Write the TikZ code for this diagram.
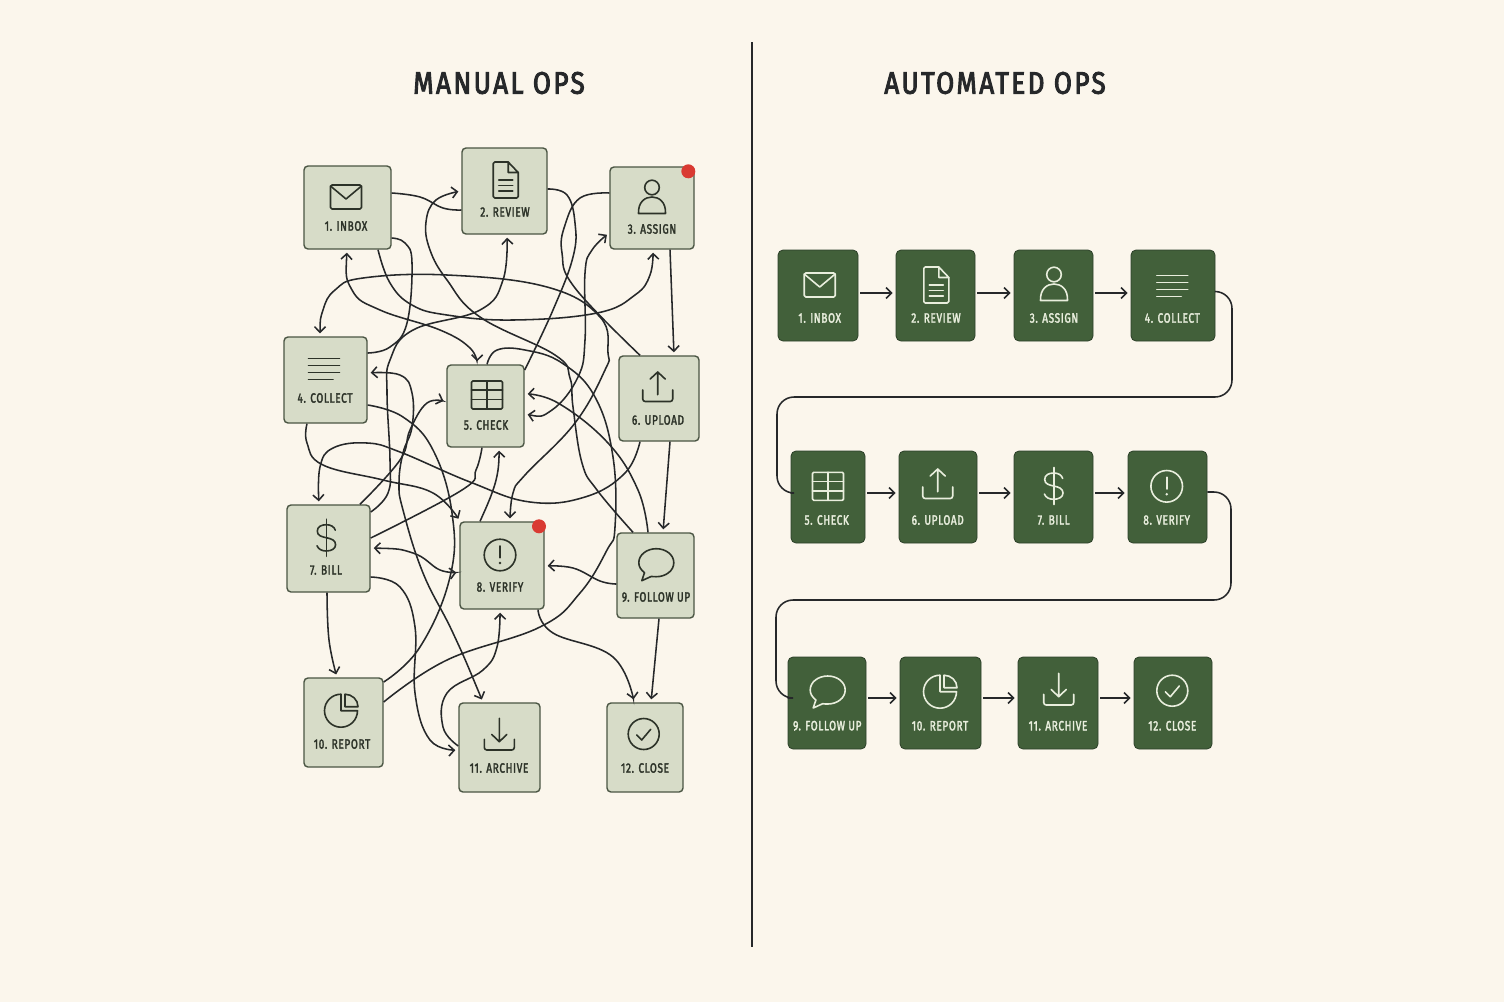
\documentclass[tikz,border=0pt]{standalone}
\usepackage{fontspec}
\usepackage{tikz}
\usetikzlibrary{arrows.meta}
\setmainfont{Fira Sans}[FakeStretch=0.74,LetterSpace=5,FakeBold=2.2]
\newfontfamily\titlefont{Fira Sans}[FakeStretch=0.84,LetterSpace=8,FakeBold=3]

\definecolor{paper}{HTML}{FBF6EC}
\definecolor{ink}{HTML}{26282A}
\definecolor{sage}{HTML}{D7DCC8}
\definecolor{sageline}{HTML}{4A5543}
\definecolor{sagetext}{HTML}{2C3228}
\definecolor{pine}{HTML}{42603A}
\definecolor{pineline}{HTML}{2C4029}
\definecolor{pinetext}{HTML}{E9EEDD}
\definecolor{alert}{HTML}{D93A32}

\tikzset{
  mbox/.style={draw=sageline,fill=sage,line width=1.4pt,rounded corners=4pt,inner sep=0pt},
  abox/.style={draw=pineline,fill=pine,line width=.8pt,rounded corners=5pt,inner sep=0pt},
  boxtext/.style={font=\fontsize{13.5}{15}\selectfont,inner sep=0pt},
  headline/.style={font=\titlefont\fontsize{31}{34}\selectfont,text=ink,inner sep=0pt},
  dot/.style={circle,fill=alert,minimum size=14pt,inner sep=0pt},
  wire/.style={draw=ink,line width=1.55pt,smooth,tension=.7,>={Straight Barb[length=5.5pt,width=11pt]}},
  onew/.style={->,shorten >=3pt},
  twow/.style={<->,shorten >=3pt,shorten <=3pt},
  icon/.style={line width=1.6pt,line join=round,line cap=round},
  pics/mailicon/.style={code={
    \draw[icon,rounded corners=1.5pt] (-15.5,-12) rectangle (15.5,12);
    \draw[icon] (-15.5,-11) -- (0,2) -- (15.5,-11);
  }},
  pics/docicon/.style={code={
    \draw[icon,rounded corners=1.5pt] (2.5,-18) -- (-12.5,-18) -- (-12.5,18) -- (12.5,18) -- (12.5,-7.5);
    \draw[icon] (2.5,-18) -- (12.5,-7.5) -- (2.5,-7.5) -- cycle;
    \foreach \ly in {0,5.5,11} \draw[icon] (-7,\ly) -- (7,\ly);
  }},
  pics/personicon/.style={code={
    \draw[icon] (0,-9.5) circle (7.3);
    \draw[icon] (-13.5,16.5) .. controls (-14,5) and (-7,0) .. (0,0) .. controls (7,0) and (14,5) .. (13.5,16.5) -- cycle;
  }},
  pics/linesicon/.style={code={
    \foreach \ly in {-10.5,-3.5,3.5} \draw[icon] (-15.5,\ly) -- (15.5,\ly);
    \draw[icon] (-15.5,10.5) -- (9,10.5);
  }},
  pics/tableicon/.style={code={
    \draw[icon,rounded corners=1.2pt] (-15.5,-14) rectangle (15.5,14);
    \draw[icon] (0,-14) -- (0,14) (-15.5,-5) -- (15.5,-5) (-15.5,4.5) -- (15.5,4.5);
  }},
  pics/uploadicon/.style={code={
    \draw[icon] (0,6.7) -- (0,-16) (-7.5,-9) -- (0,-16) -- (7.5,-9);
    \draw[icon,rounded corners=2.5pt] (-15,2) -- (-15,13.5) -- (15,13.5) -- (15,2);
  }},
  pics/dollaricon/.style={code={
    \draw[icon] (0,-18.5) -- (0,18.5);
    \draw[icon] (9,-7.5) .. controls (8,-11) and (4.5,-13) .. (0,-13) .. controls (-5,-13) and (-9,-11) .. (-9,-6.5)
      .. controls (-9,-2) and (-4.5,-1) .. (0,0) .. controls (5,1) and (9.3,2.5) .. (9.3,7)
      .. controls (9.3,11) and (5,13.3) .. (0,13.3) .. controls (-4.5,13.3) and (-8,11.5) .. (-9.3,8);
  }},
  pics/alerticon/.style={code={
    \draw[icon] (0,0) circle (15.8);
    \draw[icon,line width=2pt] (0,-9) -- (0,2.5);
    \fill (0,8) circle (1.4);
  }},
  pics/bubbleicon/.style={code={
    \draw[icon] (-5,13.7) -- (-14.5,18) -- (-11.8,10) .. controls (-15.5,7) and (-17.5,4) .. (-17.5,0)
      .. controls (-17.5,-8) and (-9.5,-14) .. (0,-14) .. controls (9.5,-14) and (17.5,-8) .. (17.5,0)
      .. controls (17.5,8) and (9.5,14) .. (0,14) .. controls (-2,14) and (-3.5,14) .. (-5,13.7) -- cycle;
  }},
  pics/pieicon/.style={code={
    \draw[icon] (0,-16.5) .. controls (-9.1,-16.5) and (-16.5,-9.1) .. (-16.5,0) .. controls (-16.5,9.1) and (-9.1,16.5) .. (0,16.5)
      .. controls (9.1,16.5) and (16.5,9.1) .. (16.5,0) -- (0,0) -- cycle;
    \draw[icon] (4,-16.5) -- (4,-4) -- (17,-4) .. controls (17,-11) and (11,-16.5) .. (4,-16.5) -- cycle;
  }},
  pics/downloadicon/.style={code={
    \draw[icon] (0,-16.7) -- (0,6.7) (-7.5,-.5) -- (0,6.7) -- (7.5,-.5);
    \draw[icon,rounded corners=2.5pt] (-15,4.3) -- (-15,15) -- (15,15) -- (15,4.3);
  }},
  pics/checkicon/.style={code={
    \draw[icon] (0,0) circle (15.5);
    \draw[icon] (-7,1) -- (-2,6) -- (7,-4.7);
  }},
}

\begin{document}
\begin{tikzpicture}[x=1pt,y=-1pt]
  \useasboundingbox (0,0) rectangle (1504,1002);
  \fill[paper] (0,0) rectangle (1504,1002);

  \node[headline] (mtitle) at (499,83) {MANUAL OPS};
  \node[headline] (atitle) at (995,83) {AUTOMATED OPS};
  \coordinate (divtop) at (752,42);
  \coordinate (divbot) at (752,947);
  \draw[ink,line width=1.5pt] (divtop) -- (divbot);

  % manual side
  \begin{scope}[color=sagetext,every node/.append style={text=sagetext}]
    \node[mbox,minimum width=87,minimum height=83] (m1) at (347.5,207.5) {};
    \node[mbox,minimum width=85,minimum height=86] (m2) at (504.5,191) {};
    \node[mbox,minimum width=84,minimum height=82] (m3) at (652,208) {};
    \node[mbox,minimum width=83,minimum height=86] (m4) at (325.5,380) {};
    \node[mbox,minimum width=77,minimum height=82] (m5) at (485.5,406) {};
    \node[mbox,minimum width=80,minimum height=85] (m6) at (659,398.5) {};
    \node[mbox,minimum width=83,minimum height=87] (m7) at (328.5,548.5) {};
    \node[mbox,minimum width=84,minimum height=87] (m8) at (502,565.5) {};
    \node[mbox,minimum width=77,minimum height=85] (m9) at (655.5,575.5) {};
    \node[mbox,minimum width=79,minimum height=89] (m10) at (343.5,722.5) {};
    \node[mbox,minimum width=81,minimum height=89] (m11) at (499.5,747.5) {};
    \node[mbox,minimum width=76,minimum height=89] (m12) at (645,747.5) {};

    \node[boxtext] (m1t) at (346,226) {1. INBOX};
    \node[boxtext] (m2t) at (505,212) {2. REVIEW};
    \node[boxtext] (m3t) at (652,229) {3. ASSIGN};
    \node[boxtext] (m4t) at (325,398) {4. COLLECT};
    \node[boxtext] (m5t) at (486,425) {5. CHECK};
    \node[boxtext] (m6t) at (658,420) {6. UPLOAD};
    \node[boxtext] (m7t) at (326,570) {7. BILL};
    \node[boxtext] (m8t) at (500,587) {8. VERIFY};
    \node[boxtext] (m9t) at (656,597) {9. FOLLOW UP};
    \node[boxtext] (m10t) at (342,744) {10. REPORT};
    \node[boxtext] (m11t) at (499,768) {11. ARCHIVE};
    \node[boxtext] (m12t) at (645,768) {12. CLOSE};

    \pic at (346,197) {mailicon};
    \pic at (505.7,180) {docicon};
    \pic at (652,197) {personicon};
    \pic at (324,369) {linesicon};
    \pic at (487,395) {tableicon};
    \pic at (657.7,388) {uploadicon};
    \pic at (326.3,537.7) {dollaricon};
    \pic at (500,555) {alerticon};
    \pic at (656.3,562.7) {bubbleicon};
    \pic at (341,710.7) {pieicon};
    \pic at (499.3,735) {downloadicon};
    \pic at (643.7,734) {checkicon};
  \end{scope}

  \node[dot] (d3) at (688.3,171.3) {};
  \node[dot] (d8) at (539,526.3) {};

  % the tangle
  \path[wire] plot coordinates {(m1.east |- 0,193) (420,197) (443,208) (m2.west |- 0,210)};
  \path[wire,onew] plot coordinates {(633,0 |- m9.north) (597,490) (582,463) (573,407) (570,378) (555,355) (480,317) (447,280) (430,250) (426,222) (436,200) (m2.west |- 0,191)};
  \path[wire] plot coordinates {(m2.east |- 0,189) (567,195) (575,223) (573,257) (553,310) (m5.east |- 0,370)};
  \path[wire] plot coordinates {(m3.west |- 0,193) (580,198) (565,225) (562,253) (575,288) (640,0 |- m6.north)};
  \path[wire,twow] plot coordinates {(m5.east |- 0,414) (552,410) (578,377) (585,340) (585,273) (592,250) (m3.west |- 0,233)};
  \path[wire,onew] plot coordinates {(648,0 |- m9.north) (638,490) (608,443) (558,403) (m5.east |- 0,394)};
  \path[wire,onew] plot coordinates {(378,0 |- m1.south) (390,283) (412,305) (447,315) (513,320) (597,313) (635,295) (650,275) (653,0 |- m3.south)};
  \path[wire] plot coordinates {(m1.east |- 0,238) (405,243) (412,263) (407,323) (390,347) (m4.east |- 0,353)};
  \path[wire,twow] plot coordinates {(347,0 |- m1.south) (352,290) (380,310) (440,330) (470,348) (477,0 |- m5.north)};
  \path[wire,onew] plot coordinates {(m7.east |- 0,512) (388,493) (390,460) (387,393) (390,360) (413,330) (480,310) (503,280) (507,0 |- m2.south)};
  \path[wire,twow] plot coordinates {(320,0 |- m4.north) (323,310) (335,290) (363,278) (447,275) (547,287) (600,317) (608,353) (605,370) (575,423) (525,475) (513,493) (510,0 |- m8.north)};
  \path[wire] plot coordinates {(487,0 |- m5.north) (497,350) (525,350) (562,363) (595,397) (613,457) (615,527) (607,550) (580,593) (540,627) (447,660) (m10.east |- 0,702)};
  \path[wire] plot coordinates {(m4.east |- 0,405) (403,417) (433,450) (452,513) (450,577) (420,647) (m10.east |- 0,682)};
  \path[wire,twow] plot coordinates {(483,0 |- m11.north) (453,633) (423,573) (403,510) (399,483) (403,453) (412,427) (412,393) (400,375) (m4.east |- 0,373)};
  \path[wire,onew] plot coordinates {(307,0 |- m4.south) (307,443) (323,465) (383,480) (433,493) (460,0 |- m8.north)};
  \path[wire,onew] plot coordinates {(640,0 |- m6.south) (625,473) (585,497) (530,502) (470,482) (400,452) (367,443) (333,448) (320,467) (319,0 |- m7.north)};
  \path[wire] plot coordinates {(482,0 |- m5.south) (476,470) (462,490) (m7.east |- 0,538)};
  \path[wire,onew] plot coordinates {(480,0 |- m8.north) (492,493) (498,470) (499,0 |- m5.south)};
  \path[wire,twow] plot coordinates {(m7.east |- 0,548) (413,553) (440,570) (m8.west |- 0,572)};
  \path[wire,onew] plot coordinates {(m7.east |- 0,577) (400,587) (415,627) (415,693) (430,740) (m11.west |- 0,750)};
  \path[wire,onew] plot coordinates {(360,0 |- m7.north) (400,460) (410,430) (427,403) (m5.west |- 0,402)};
  \path[wire,onew] plot coordinates {(327,0 |- m7.south) (329,640) (337,0 |- m10.north)};
  \path[wire,onew] plot coordinates {(m11.west |- 0,746) (443,727) (447,693) (483,670) (497,647) (500,0 |- m8.south)};
  \path[wire,onew] plot coordinates {(538,0 |- m8.south) (553,633) (613,657) (634,0 |- m12.north)};
  \path[wire,onew] plot coordinates {(659,0 |- m9.south) (651,0 |- m12.north)};
  \path[wire,onew] plot coordinates {(m9.west |- 0,584) (600,581) (573,568) (m8.east |- 0,566)};
  \path[wire,onew] plot coordinates {(670,0 |- m6.south) (663,0 |- m9.north)};
  \path[wire,onew] plot coordinates {(670,0 |- m3.south) (674,0 |- m6.north)};

  % automated side
  \begin{scope}[color=pinetext,every node/.append style={text=pinetext}]
    \node[abox,minimum width=80,minimum height=91] (a1) at (818,295.5) {};
    \node[abox,minimum width=79,minimum height=91] (a2) at (935.5,295.5) {};
    \node[abox,minimum width=79,minimum height=91] (a3) at (1053.5,295.5) {};
    \node[abox,minimum width=84,minimum height=91] (a4) at (1173,295.5) {};
    \node[abox,minimum width=74,minimum height=92] (a5) at (828,497) {};
    \node[abox,minimum width=78,minimum height=92] (a6) at (938,497) {};
    \node[abox,minimum width=79,minimum height=92] (a7) at (1053.5,497) {};
    \node[abox,minimum width=79,minimum height=92] (a8) at (1167.5,497) {};
    \node[abox,minimum width=78,minimum height=92] (a9) at (827,703) {};
    \node[abox,minimum width=81,minimum height=92] (a10) at (940.5,703) {};
    \node[abox,minimum width=80,minimum height=92] (a11) at (1058,703) {};
    \node[abox,minimum width=78,minimum height=92] (a12) at (1173,703) {};

    \node[boxtext] (a1t) at (819.7,318) {1. INBOX};
    \node[boxtext] (a2t) at (936,318) {2. REVIEW};
    \node[boxtext] (a3t) at (1054,318) {3. ASSIGN};
    \node[boxtext] (a4t) at (1172.3,318) {4. COLLECT};
    \node[boxtext] (a5t) at (826.7,520) {5. CHECK};
    \node[boxtext] (a6t) at (937.7,520) {6. UPLOAD};
    \node[boxtext] (a7t) at (1053.7,520) {7. BILL};
    \node[boxtext] (a8t) at (1166.7,520) {8. VERIFY};
    \node[boxtext] (a9t) at (827.3,725.7) {9. FOLLOW UP};
    \node[boxtext] (a10t) at (940,725.7) {10. REPORT};
    \node[boxtext] (a11t) at (1058,725.7) {11. ARCHIVE};
    \node[boxtext] (a12t) at (1172.3,725.7) {12. CLOSE};

    \pic at (819.7,285) {mailicon};
    \pic at (936.3,285) {docicon};
    \pic at (1054,284) {personicon};
    \pic at (1172.3,286) {linesicon};
    \pic at (828,486.3) {tableicon};
    \pic at (937.7,485) {uploadicon};
    \pic at (1053.7,486) {dollaricon};
    \pic at (1166.7,486.3) {alerticon};
    \pic at (827.7,690) {bubbleicon};
    \pic at (940,691.7) {pieicon};
    \pic at (1058.7,690) {downloadicon};
    \pic at (1172.3,690.7) {checkicon};
  \end{scope}

  \begin{scope}[every path/.append style={wire,onew,shorten <=2pt}]
    \path ([yshift=2.5pt]a1.east) -- ([yshift=2.5pt]a2.west);
    \path ([yshift=2.5pt]a2.east) -- ([yshift=2.5pt]a3.west);
    \path ([yshift=2.5pt]a3.east) -- ([yshift=2.5pt]a4.west);
    \path ([yshift=4pt]a5.east) -- ([yshift=4pt]a6.west);
    \path ([yshift=4pt]a6.east) -- ([yshift=4pt]a7.west);
    \path ([yshift=4pt]a7.east) -- ([yshift=4pt]a8.west);
    \path ([yshift=5pt]a9.east) -- ([yshift=5pt]a10.west);
    \path ([yshift=5pt]a10.east) -- ([yshift=5pt]a11.west);
    \path ([yshift=5pt]a11.east) -- ([yshift=5pt]a12.west);
  \end{scope}
  \path[wire,rounded corners=17pt] ([yshift=4pt]a4.east) -| (1232,397) -| (777,493) -- ([yshift=4pt]a5.west);
  \path[wire,rounded corners=17pt] ([yshift=5pt]a8.east) -| (1231,600) -| (776,698) -- ([yshift=5pt]a9.west);
\end{tikzpicture}
\end{document}
